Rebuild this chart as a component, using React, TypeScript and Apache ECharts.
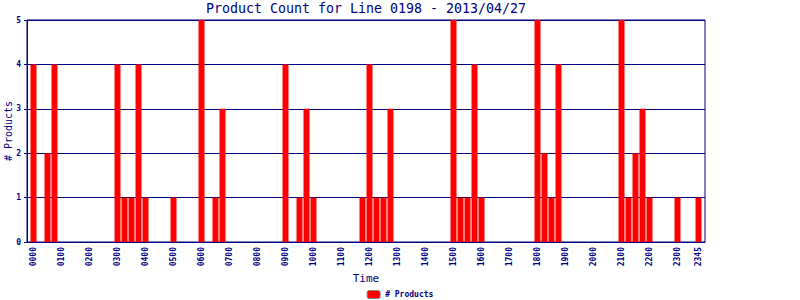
import React, { useEffect, useRef } from "react";
import * as echarts from "echarts";

const titleText = "Product Count for Line 0198 - 2013/04/27";
const seriesName = "# Products";
const xAxisName = "Time";

// 15-minute slots with a non-zero count
const times = [
  "0000", "0030", "0045",
  "0300", "0315", "0330", "0345", "0400",
  "0500",
  "0600", "0630", "0645",
  "0900", "0930", "0945", "1000",
  "1145", "1200", "1215", "1230", "1245",
  "1500", "1515", "1530", "1545", "1600",
  "1800", "1815", "1830", "1845",
  "2100", "2115", "2130", "2145", "2200",
  "2300",
  "2345",
];
const counts = [
  4, 2, 4,
  4, 1, 1, 4, 1,
  1,
  5, 1, 3,
  4, 1, 3, 1,
  1, 4, 1, 1, 3,
  5, 1, 1, 4, 1,
  5, 2, 1, 4,
  5, 1, 2, 3, 1,
  1,
  1,
];
const tickLabels = [
  "0000", "0100", "0200", "0300", "0400", "0500", "0600", "0700",
  "0800", "0900", "1000", "1100", "1200", "1300", "1400", "1500",
  "1600", "1700", "1800", "1900", "2000", "2100", "2200", "2300", "2345",
];

const slotOf = (t: string) =>
  parseInt(t.slice(0, 2), 10) * 4 + parseInt(t.slice(2), 10) / 15;

const NAVY = "#000080";
const MONO = "'DejaVu Sans Mono', monospace";

export default function App() {
  const ref = useRef<HTMLDivElement>(null);
  useEffect(() => {
    if (!ref.current) return;
    const chart = echarts.init(ref.current, undefined, { renderer: "svg" });
    const barData = times.map((t, i) => [slotOf(t), counts[i]]);
    const tickSlots = tickLabels.map(slotOf);
    const labelBySlot: Record<number, string> = {};
    tickLabels.forEach((l, i) => (labelBySlot[tickSlots[i]] = l));
    chart.setOption({
      animation: false,
      backgroundColor: "#ffffff",
      title: {
        text: titleText,
        left: 366,
        top: 1.5,
        padding: 0,
        textAlign: "center",
        textStyle: {
          fontFamily: MONO,
          fontSize: 13.3,
          fontWeight: "normal",
          color: NAVY,
        },
      },
      legend: {
        data: [seriesName],
        left: "center",
        top: 290,
        padding: 0,
        itemWidth: 13,
        itemHeight: 8,
        itemGap: 5,
        itemStyle: { borderColor: "#808080", borderWidth: 1 },
        textStyle: {
          fontFamily: MONO,
          fontSize: 8,
          fontWeight: "bold",
          color: NAVY,
        },
      },
      grid: {
        left: 27,
        right: 95,
        top: 20,
        bottom: 58,
        containLabel: false,
        outerBoundsMode: "none",
        show: true,
        borderColor: NAVY,
        borderWidth: 1,
        backgroundColor: "transparent",
      },
      xAxis: {
        type: "value",
        min: -0.93,
        max: 95.93,
        name: xAxisName,
        nameLocation: "middle",
        nameGap: 31,
        nameMoveOverlap: false,
        nameTextStyle: { fontFamily: MONO, fontSize: 11, color: NAVY },
        axisLine: { show: true, onZero: false, lineStyle: { color: NAVY, width: 1 } },
        axisTick: { show: false },
        splitLine: { show: false },
        axisLabel: {
          customValues: tickSlots,
          rotate: 90,
          margin: 5,
          fontFamily: MONO,
          fontSize: 8,
          fontWeight: "bold",
          color: NAVY,
          formatter: (v: number) => labelBySlot[Math.round(v)] ?? "",
        },
      },
      yAxis: {
        type: "value",
        min: 0,
        max: 5,
        interval: 1,
        name: seriesName,
        nameLocation: "middle",
        nameGap: 14,
        nameRotate: 90,
        nameMoveOverlap: false,
        nameTextStyle: { fontFamily: MONO, fontSize: 10, color: NAVY },
        axisLine: { show: true, onZero: false, lineStyle: { color: NAVY, width: 1 } },
        axisTick: { show: true, length: 3, lineStyle: { color: NAVY } },
        splitLine: { show: true, lineStyle: { color: NAVY, width: 1 } },
        axisLabel: {
          margin: 6,
          fontFamily: MONO,
          fontSize: 8,
          fontWeight: "bold",
          color: NAVY,
        },
      },
      series: [
        {
          name: seriesName,
          type: "bar",
          data: barData,
          barWidth: 6,
          itemStyle: { color: "#ff0000" },
        },
      ],
    });
    return () => chart.dispose();
  }, []);
  return (
    <div
      ref={ref}
      style={{ position: "absolute", left: 0, top: 0, width: 800, height: 300 }}
    />
  );
}
